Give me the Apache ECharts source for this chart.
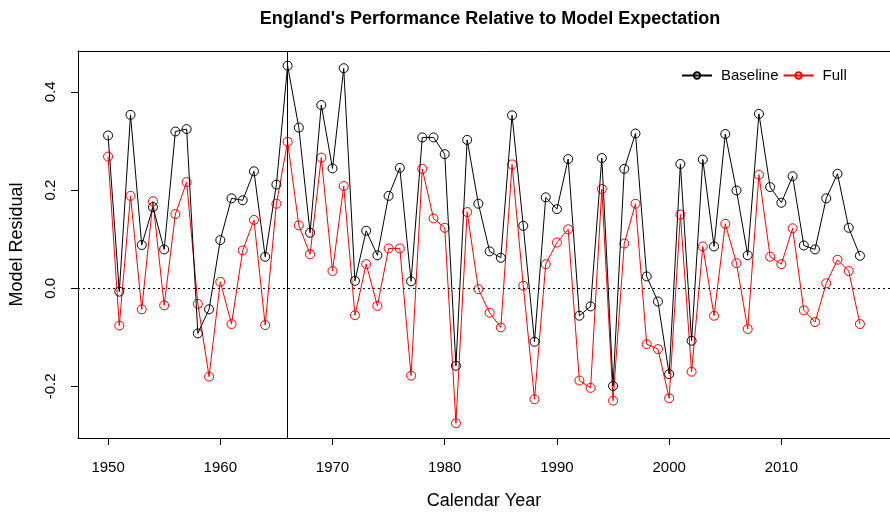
<!DOCTYPE html>
<html>
<head>
<meta charset="utf-8">
<script src="https://cdn.jsdelivr.net/npm/echarts@6/dist/echarts.min.js"></script>
<style>html,body{margin:0;padding:0;background:#fff;}#chart{width:890px;height:515px;}</style>
</head>
<body>
<div id="chart"></div>
<script>
const years = [];
for (let y = 1950; y <= 2017; y++) years.push(y);
const baseline = [
  0.311, -0.007, 0.353, 0.088, 0.165, 0.079, 0.319, 0.324, -0.092, -0.043,
  0.098, 0.183, 0.179, 0.238, 0.064, 0.211, 0.453, 0.327, 0.113, 0.373,
  0.244, 0.448, 0.015, 0.117, 0.067, 0.188, 0.245, 0.014, 0.307, 0.307,
  0.273, -0.158, 0.302, 0.172, 0.075, 0.062, 0.352, 0.127, -0.109, 0.185,
  0.161, 0.263, -0.056, -0.037, 0.265, -0.199, 0.243, 0.315, 0.024, -0.027,
  -0.175, 0.253, -0.107, 0.262, 0.085, 0.314, 0.199, 0.067, 0.355, 0.206,
  0.174, 0.228, 0.087, 0.079, 0.183, 0.233, 0.123, 0.066
];
const full = [
  0.268, -0.076, 0.188, -0.043, 0.177, -0.035, 0.151, 0.216, -0.032, -0.180,
  0.013, -0.073, 0.077, 0.139, -0.075, 0.172, 0.298, 0.128, 0.069, 0.266,
  0.035, 0.208, -0.055, 0.049, -0.036, 0.081, 0.081, -0.178, 0.243, 0.142,
  0.123, -0.275, 0.155, -0.002, -0.050, -0.080, 0.252, 0.005, -0.226, 0.049,
  0.093, 0.120, -0.188, -0.203, 0.202, -0.229, 0.091, 0.172, -0.114, -0.124,
  -0.224, 0.150, -0.170, 0.085, -0.056, 0.131, 0.051, -0.083, 0.231, 0.064,
  0.049, 0.122, -0.045, -0.069, 0.010, 0.058, 0.035, -0.073
];
const xTicks = [1950, 1960, 1970, 1980, 1990, 2000, 2010];
const yTicks = [-0.2, 0.0, 0.2, 0.4];
const refYear = 1966;

const FONT = '"Liberation Sans", Arial, Helvetica, sans-serif';
const chart = echarts.init(document.getElementById('chart'), null, {renderer: 'canvas'});

function mkSeries(name, vals, color, withMarks) {
  const s = {
    name: name,
    type: 'line',
    data: years.map((y, i) => [y, vals[i]]),
    symbol: 'circle',
    symbolSize: 9,
    showAllSymbol: true,
    lineStyle: {color: color, width: 1},
    itemStyle: {color: 'rgba(255,255,255,0)', borderColor: color, borderWidth: 1},
    emphasis: {disabled: true},
    animation: false,
    z: name === 'Full' ? 3 : 4
  };
  if (withMarks) {
    s.markLine = {
      silent: true,
      symbol: 'none',
      label: {show: false},
      animation: false,
      data: [
        {xAxis: refYear, lineStyle: {color: '#000', width: 1, type: 'solid'}},
        {yAxis: 0, lineStyle: {color: '#000', width: 1, type: [2, 3]}}
      ]
    };
  }
  return s;
}

chart.setOption({
  animation: false,
  backgroundColor: '#fff',
  title: {
    text: "England's Performance Relative to Model Expectation",
    left: 485, top: 5, textAlign: 'center',
    textStyle: {fontFamily: FONT, fontWeight: 'bold', fontSize: 18, color: '#000'}
  },
  legend: {
    left: 676, top: 63,
    itemWidth: 30, itemHeight: 8, itemGap: 4,
    textStyle: {fontFamily: FONT, fontSize: 15, color: '#000', padding: [0, 0, 0, 4]},
    data: ['Baseline', 'Full']
  },
  grid: {left: 78, right: 0, top: 51, bottom: 77, show: false},
  xAxis: [{
    type: 'value', min: 1947.32, max: 2019.68,
    name: 'Calendar Year', nameLocation: 'middle', nameGap: 54,
    nameTextStyle: {fontFamily: FONT, fontSize: 18, color: '#000'},
    axisLine: {show: true, onZero: false, lineStyle: {color: '#000', width: 1}},
    axisTick: {show: true, inside: false, length: 7, customValues: xTicks, lineStyle: {color: '#000'}},
    axisLabel: {show: true, margin: 22, customValues: xTicks, fontFamily: FONT, fontSize: 15, color: '#000', formatter: v => String(v)},
    splitLine: {show: false}
  }, {
    type: 'value', position: 'top', min: 1947.32, max: 2019.68,
    axisLine: {show: true, onZero: false, lineStyle: {color: '#000', width: 1}},
    axisTick: {show: false}, axisLabel: {show: false}, splitLine: {show: false}
  }],
  yAxis: {
    type: 'value', min: -0.305, max: 0.483,
    name: 'Model Residual', nameLocation: 'middle', nameGap: 52, nameRotate: 90,
    nameTextStyle: {fontFamily: FONT, fontSize: 18, color: '#000'},
    axisLine: {show: true, onZero: false, lineStyle: {color: '#000', width: 1}},
    axisTick: {show: true, inside: false, length: 7, customValues: yTicks, lineStyle: {color: '#000'}},
    axisLabel: {show: true, rotate: 90, margin: 20, customValues: yTicks, fontFamily: FONT, fontSize: 15, color: '#000', formatter: v => v.toFixed(1)},
    splitLine: {show: false}
  },
  series: [
    mkSeries('Baseline', baseline, '#000', true),
    mkSeries('Full', full, '#f00', false)
  ]
});
</script>
</body>
</html>
